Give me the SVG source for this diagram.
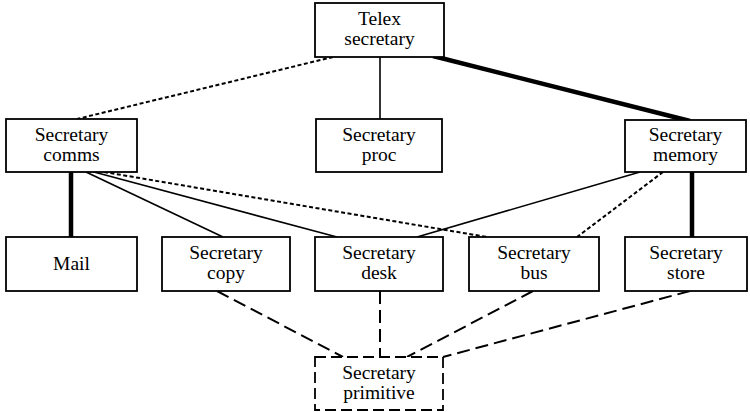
<svg xmlns="http://www.w3.org/2000/svg" width="750" height="412" viewBox="0 0 750 412">
<style>
.box{fill:#fff;stroke:#000;stroke-width:1.8}
.dbox{fill:#fff;stroke:#000;stroke-width:1.8;stroke-dasharray:11 5}
text{font-family:"Liberation Serif","Times New Roman",serif;font-size:19.5px;fill:#000;text-anchor:middle}
.thin{stroke:#000;stroke-width:1.6;fill:none}
.thick{stroke:#000;stroke-width:4.5;fill:none}
.dot{stroke:#000;stroke-width:2;stroke-dasharray:4 2.5;fill:none}
.dash{stroke:#000;stroke-width:2;stroke-dasharray:13 6;fill:none}
</style>
<rect width="750" height="412" fill="#fff"/>
<g id="connectors">
<line class="dot" x1="333" y1="57" x2="77" y2="119"/>
<line class="thin" x1="380" y1="57" x2="380" y2="119"/>
<line class="thick" x1="433" y1="56" x2="690" y2="121"/>
<line class="thick" x1="71" y1="172" x2="71" y2="237"/>
<line class="thin" x1="86" y1="172" x2="223" y2="237"/>
<line class="thin" x1="94" y1="172" x2="337" y2="237"/>
<line class="dot" x1="104" y1="172" x2="487" y2="237"/>
<line class="thin" x1="640" y1="172" x2="417" y2="237"/>
<line class="dot" x1="663" y1="172" x2="577" y2="237"/>
<line class="thick" x1="692" y1="172" x2="692" y2="237"/>
<line class="dash" x1="217" y1="291" x2="343" y2="357"/>
<line class="dash" x1="380" y1="291" x2="380" y2="357"/>
<line class="dash" x1="533" y1="291" x2="407" y2="357"/>
<line class="dash" x1="690" y1="291" x2="443" y2="357"/>
</g>
<g id="telex">
<rect class="box" x="315" y="3" width="129" height="54"/>
<text x="379.5" y="25">Telex</text>
<text x="379.5" y="45">secretary</text>
</g>
<g id="comms">
<rect class="box" x="6" y="119" width="131" height="53"/>
<text x="71.5" y="141">Secretary</text>
<text x="71.5" y="161">comms</text>
</g>
<g id="proc">
<rect class="box" x="316" y="119" width="126" height="53"/>
<text x="379" y="141">Secretary</text>
<text x="379" y="161">proc</text>
</g>
<g id="memory">
<rect class="box" x="625" y="120" width="121" height="52"/>
<text x="685.5" y="141">Secretary</text>
<text x="685.5" y="161">memory</text>
</g>
<g id="mail">
<rect class="box" x="6" y="237" width="131" height="54"/>
<text x="71.5" y="270">Mail</text>
</g>
<g id="copy">
<rect class="box" x="162" y="237" width="128" height="54"/>
<text x="226" y="259">Secretary</text>
<text x="226" y="279">copy</text>
</g>
<g id="desk">
<rect class="box" x="315" y="237" width="128" height="54"/>
<text x="379" y="259">Secretary</text>
<text x="379" y="279">desk</text>
</g>
<g id="bus">
<rect class="box" x="469" y="237" width="130" height="54"/>
<text x="534" y="259">Secretary</text>
<text x="534" y="279">bus</text>
</g>
<g id="store">
<rect class="box" x="625" y="237" width="122" height="54"/>
<text x="686" y="259">Secretary</text>
<text x="686" y="279">store</text>
</g>
<g id="primitive">
<rect class="dbox" x="315" y="357" width="128" height="53"/>
<text x="379" y="379">Secretary</text>
<text x="379" y="399">primitive</text>
</g>
</svg>
